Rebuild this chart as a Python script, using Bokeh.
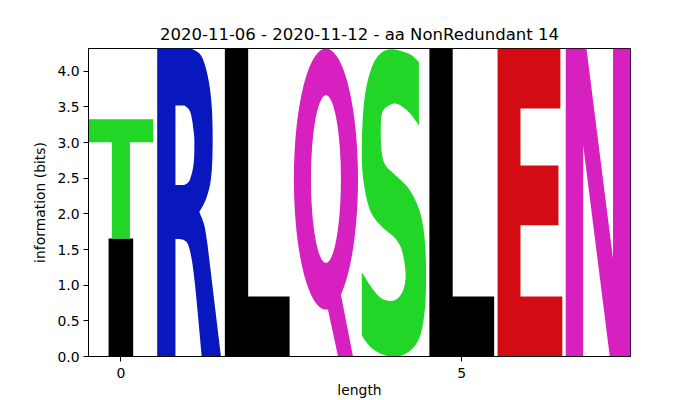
import numpy as np
from bokeh.plotting import figure
from bokeh.models import ColumnDataSource, FixedTicker, Range1d, NumeralTickFormatter
from bokeh.embed import file_html
from bokeh.resources import INLINE

# ---------------- data ----------------
title_text = "2020-11-06 - 2020-11-12 - aa NonRedundant 14"
positions = [0, 0, 1, 2, 3, 4, 5, 6, 7]
letters = ["I", "T", "R", "L", "Q", "S", "L", "E", "N"]
heights = [1.656, 1.670, 4.32, 4.32, 4.32, 4.32, 4.32, 4.32, 4.32]
letter_colors = {"I": "#000000", "L": "#000000", "T": "#22d628", "S": "#22d628",
                 "R": "#0818be", "Q": "#d620bf", "N": "#d620bf", "E": "#d30c14"}
x_ticks = [0, 5]
y_ticks = [0.0, 0.5, 1.0, 1.5, 2.0, 2.5, 3.0, 3.5, 4.0]
y_max = 4.32
x_min, x_max = -0.475, 7.475
letter_width = 0.95

FONT = "DejaVu Sans"


# ---------------- glyph outlines (unit box) ----------------
def catmull(pts, n=10):
    pts = np.asarray(pts, dtype=float)
    P = np.vstack([pts[0], pts, pts[-1]])
    out = []
    for i in range(1, len(P) - 2):
        p0, p1, p2, p3 = P[i - 1], P[i], P[i + 1], P[i + 2]
        for t in np.linspace(0, 1, n, endpoint=False):
            t2, t3 = t * t, t * t * t
            out.append(0.5 * ((2 * p1) + (-p0 + p2) * t + (2 * p0 - 5 * p1 + 4 * p2 - p3) * t2
                              + (-p0 + 3 * p1 - 3 * p2 + p3) * t3))
    out.append(pts[-1])
    return [tuple(q) for q in out]


def path(*segs):
    ring = []
    for kind, pts in segs:
        seg = catmull(pts) if kind == "C" else list(pts)
        for q in seg:
            if not ring or (abs(ring[-1][0] - q[0]) > 1e-9 or abs(ring[-1][1] - q[1]) > 1e-9):
                ring.append(q)
    return ring


def ellipse(cu, cv, ru, rv, n=90, reverse=False):
    t = np.linspace(0, 2 * np.pi, n, endpoint=False)
    if reverse:
        t = t[::-1]
    return list(zip(cu + ru * np.cos(t), cv + rv * np.sin(t)))


def shape(letter):
    if letter == "I":
        return [[[(0.31, 0), (0.31, 1), (0.69, 1), (0.69, 0)]]]
    if letter == "T":
        return [[[(0, 1), (1, 1), (1, 0.807), (0.64, 0.807), (0.64, 0), (0.36, 0),
                  (0.36, 0.807), (0, 0.807)]]]
    if letter == "L":
        return [[[(0, 0), (0, 1), (0.36, 1), (0.36, 0.195), (1, 0.195), (1, 0)]]]
    if letter == "E":
        return [[[(0, 0), (0, 1), (0.97, 1), (0.97, 0.805), (0.354, 0.805), (0.354, 0.62),
                  (0.94, 0.62), (0.94, 0.426), (0.354, 0.426), (0.354, 0.195), (1, 0.195), (1, 0)]]]
    if letter == "N":
        return [[[(0, 0), (0, 1), (0.32, 1), (0.73, 0.318), (0.73, 1), (1, 1), (1, 0),
                  (0.68, 0), (0.27, 0.685), (0.27, 0)]]]
    if letter == "Q":
        oval = [ellipse(0.508, 0.576, 0.495, 0.424),
                ellipse(0.508, 0.576, 0.231, 0.272, reverse=True)]
        tail = [[(0.44, 0.25), (0.695, 0), (0.926, 0), (0.693, 0.25)]]
        return [oval, tail]
    if letter == "R":
        outer = path(
            ("L", [(0.29, 0), (0.008, 0), (0.008, 1), (0.53, 1)]),
            ("C", [(0.53, 1), (0.685, 0.977), (0.787, 0.912), (0.849, 0.815), (0.864, 0.685),
                   (0.838, 0.577), (0.762, 0.512), (0.659, 0.469)]),
            ("C", [(0.659, 0.469), (0.736, 0.425), (0.787, 0.36)]),
            ("L", [(0.787, 0.36), (0.992, 0), (0.695, 0)]),
            ("C", [(0.695, 0), (0.582, 0.252), (0.505, 0.35), (0.428, 0.377), (0.29, 0.382)]),
        )
        hole = path(
            ("L", [(0.29, 0.557), (0.29, 0.815), (0.428, 0.815)]),
            ("C", [(0.428, 0.815), (0.52, 0.793), (0.572, 0.728), (0.582, 0.685), (0.567, 0.62),
                   (0.505, 0.571), (0.428, 0.557)]),
        )
        return [[outer, hole[::-1]]]
    if letter == "S":
        ring = path(
            ("C", [(0.891, 0.956), (0.737, 0.983), (0.430, 0.997), (0.225, 0.966), (0.096, 0.891),
                   (0.030, 0.793), (0.009, 0.653), (0.045, 0.555), (0.148, 0.469), (0.327, 0.420),
                   (0.532, 0.382), (0.635, 0.339), (0.686, 0.263), (0.635, 0.209), (0.507, 0.182),
                   (0.327, 0.187), (0.173, 0.220), (0.009, 0.274)]),
            ("C", [(0.009, 0.068), (0.173, 0.025), (0.430, 0.001), (0.686, 0.009), (0.891, 0.057),
                   (0.984, 0.155), (1.0, 0.295), (0.968, 0.404), (0.891, 0.479), (0.737, 0.544),
                   (0.532, 0.588), (0.378, 0.620), (0.317, 0.663), (0.302, 0.739), (0.327, 0.793),
                   (0.430, 0.815), (0.558, 0.820), (0.737, 0.793), (0.891, 0.750)]),
        )
        return [[ring]]
    return []


# ---------------- build glyph table ----------------
xs, ys, cols = [], [], []
stack_top = {}
for pos, let, h in zip(positions, letters, heights):
    bottom = stack_top.get(pos, 0.0)
    stack_top[pos] = bottom + h
    x0 = pos - letter_width / 2
    for piece in shape(let):
        rx, ry = [], []
        for ring in piece:
            rx.append([x0 + u * letter_width for u, v in ring])
            ry.append([bottom + v * h for u, v in ring])
        xs.append([rx])
        ys.append([ry])
        cols.append(letter_colors[let])

src = ColumnDataSource(dict(xs=xs, ys=ys, color=cols))

# ---------------- figure ----------------
p = figure(width=700, height=400, output_backend="svg", toolbar_location=None,
           x_range=Range1d(x_min, x_max), y_range=Range1d(0, y_max),
           min_border_left=88, min_border_right=70, min_border_top=48, min_border_bottom=44,
           title=title_text)
p.multi_polygons(xs="xs", ys="ys", fill_color="color", line_color=None, source=src)

p.title.align = "center"
p.title.text_font = FONT
p.title.text_font_size = "16.5px"
p.title.text_font_style = "normal"
p.title.text_color = "black"

p.grid.visible = False
p.background_fill_color = "white"
p.border_fill_color = "white"
p.outline_line_color = "black"
p.outline_line_width = 1
p.outline_line_alpha = 1

p.xaxis.ticker = FixedTicker(ticks=x_ticks)
p.yaxis.ticker = FixedTicker(ticks=y_ticks)
p.yaxis.formatter = NumeralTickFormatter(format="0.0")
p.xaxis.axis_label = "length"
p.yaxis.axis_label = "information (bits)"

for ax in (p.xaxis, p.yaxis):
    ax.axis_line_color = "black"
    ax.major_tick_line_color = "black"
    ax.major_tick_out = 5
    ax.major_tick_in = 0
    ax.minor_tick_line_color = None
    ax.major_label_text_font = FONT
    ax.major_label_text_font_size = "13.9px"
    ax.major_label_text_color = "black"
    ax.axis_label_text_font = FONT
    ax.axis_label_text_font_size = "13.9px"
    ax.axis_label_text_font_style = "normal"
    ax.axis_label_text_color = "black"

p.yaxis.major_label_standoff = 4
p.yaxis.axis_label_standoff = 6
p.xaxis.major_label_standoff = 6
p.xaxis.axis_label_standoff = 1

open("out.html", "w").write(file_html(p, INLINE))
